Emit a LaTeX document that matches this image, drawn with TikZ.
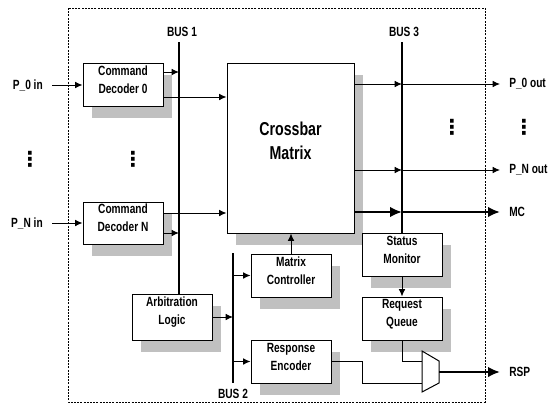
\documentclass[tikz,border=0pt]{standalone}
\usepackage{fontspec}
\setmainfont[FakeStretch=0.76]{Liberation Sans}
\newfontfamily\dotsfont{DejaVu Sans}
\usetikzlibrary{arrows.meta,fit,shadows}
\definecolor{shade}{RGB}{192,192,192}
\begin{document}
\begin{tikzpicture}[x=0.75pt,y=-0.75pt,
  box/.style={draw=black, line width=0.75pt, fill=white, inner sep=0pt, align=center,
    font=\fontsize{10}{13.5}\selectfont\bfseries,
    drop shadow={shadow xshift=6.75pt, shadow yshift=-9pt, fill=shade, opacity=1}},
  bigbox/.style={box, font=\fontsize{14}{18}\selectfont\bfseries},
  lbl/.style={inner sep=0pt, font=\fontsize{10}{12}\selectfont\bfseries},
  vdotlbl/.style={inner sep=0pt, font=\dotsfont\fontsize{15.5}{15.5}\selectfont\bfseries},
  arr/.style={line width=0.75pt, -{Latex[length=5.5pt,width=5pt]}},
  thickarr/.style={line width=2pt, -{Latex[length=9pt,width=8pt]}},
  bus/.style={line width=2pt},
  wire/.style={line width=0.75pt},
  frame/.style={line width=0.6pt, dash pattern=on 1.5pt off 0.9pt}]
\useasboundingbox (0,0) rectangle (553,407);
% frame
\draw[frame] (68,8) rectangle (485,402);
% boxes
\node[box, fit={(83,63)(163,106)}] (cd0) {Command\\Decoder 0};
\node[box, fit={(83,202)(163,244)}] (cdN) {Command\\Decoder N};
\node[box, fit={(132,294)(212,340)}] (arb) {Arbitration\\Logic};
\node[bigbox, fit={(227,63)(354,233)}] (xbar) {Crossbar\\Matrix};
\node[box, fit={(251,254)(331,297)}] (mctl) {Matrix\\Controller};
\node[box, fit={(251,340)(331,383)}] (renc) {Response\\Encoder};
\node[box, fit={(362,233)(442,276)}] (stat) {Status\\Monitor};
\node[box, fit={(362,297)(442,340)}] (rq) {Request\\Queue};
% mux
\coordinate (muxin1) at (422,361);
\coordinate (muxin2) at (422,383);
\coordinate (muxout) at (439,372);
\draw[wire, fill=white] (422,351) -- (439,361) -- (439,383) -- (422,392) -- cycle;
% labels
\node[lbl, anchor=east] (p0in) at (43,85) {P\_0 in};
\node[lbl, anchor=east] (pNin) at (43,223) {P\_N in};
\node[lbl, anchor=west] (p0out) at (509,84) {P\_0 out};
\node[lbl, anchor=west] (pNout) at (509,170) {P\_N out};
\node[lbl, anchor=west] (mc) at (509,212) {MC};
\node[lbl, anchor=west] (rsp) at (509,372) {RSP};
\node[lbl] (bus1lbl) at (182,32) {BUS 1};
\node[lbl] (bus3lbl) at (404,32) {BUS 3};
\node[lbl] (bus2lbl) at (233,394) {BUS 2};
% dots
\node[vdotlbl] (dl) at (30,159) {⋮};
\node[vdotlbl] (dm) at (133,159) {⋮};
\node[vdotlbl] (dr1) at (452,127) {⋮};
\node[vdotlbl] (dr2) at (524,127) {⋮};
% buses
\coordinate (b1top) at (179,42);
\coordinate (b3top) at (402,42);
\coordinate (b2top) at (233,253);
\coordinate (b2bot) at (233,383);
\draw[bus] (b1top) -- (b1top |- arb.north);
\draw[bus] (b3top) -- (b3top |- stat.north);
\draw[bus] (b2top) -- (b2bot);
% inputs
\draw[arr, shorten <=6.75pt] (p0in.east) -- (p0in.east -| cd0.west);
\draw[arr, shorten <=6.75pt] (pNin.east) -- (pNin.east -| cdN.west);
% decoders
\draw[arr] (cd0.east |- 0,72) -- (b1top |- 0,72);
\draw[arr] (cd0.east |- 0,97) -- (xbar.west |- 0,97);
\draw[arr] (cdN.east |- 0,213) -- (xbar.west |- 0,213);
\draw[arr] (cdN.east |- 0,233) -- (b1top |- 0,233);
% outputs
\draw[arr] (xbar.east |- p0out) -- (b3top |- p0out);
\draw[arr, shorten >=6.75pt] (b3top |- p0out) -- (p0out.west);
\draw[arr] (xbar.east |- pNout) -- (b3top |- pNout);
\draw[arr, shorten >=6.75pt] (b3top |- pNout) -- (pNout.west);
\draw[thickarr] (xbar.east |- mc) -- (b3top |- mc);
\draw[thickarr, shorten >=6.75pt] (b3top |- mc) -- (mc.west);
% lower section
\draw[arr] (mctl.north) -- (xbar.south -| mctl.north);
\draw[arr] (arb.east |- 0,317) -- (b2top |- 0,317);
\draw[arr] (b2top |- mctl.west) -- (mctl.west);
\draw[arr] (b2top |- renc.west) -- (renc.west);
\draw[arr] (stat.south) -- (rq.north);
\draw[wire] (rq.south) |- (muxin1);
\draw[wire] (renc.east) -- (362,361.5) |- (muxin2);
\draw[thickarr, shorten >=6.75pt] (muxout) -- (rsp.west);
\end{tikzpicture}
\end{document}
